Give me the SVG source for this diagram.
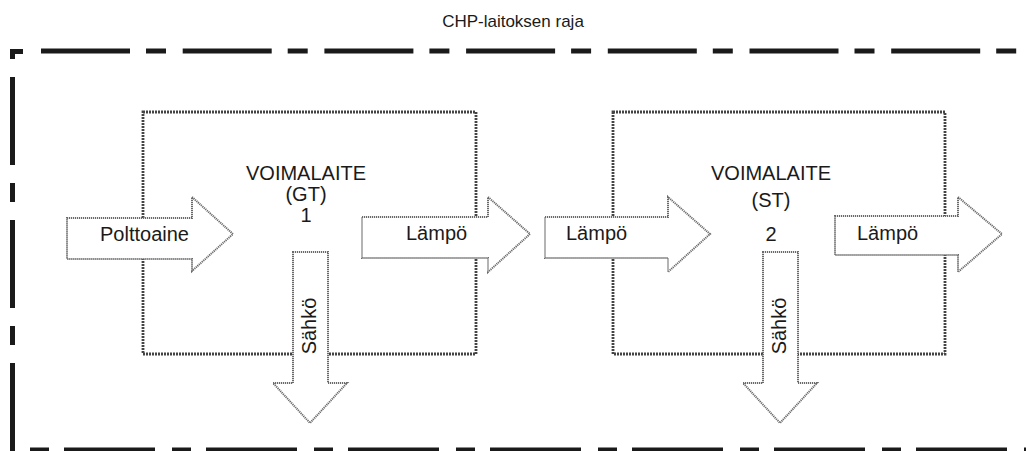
<svg xmlns="http://www.w3.org/2000/svg" width="1026" height="451" viewBox="0 0 1026 451">
  <style>
    .lbl { font-family: "Liberation Sans", Arial, sans-serif; font-size: 20px; fill: #1a1a1a; }
    .title { font-family: "Liberation Sans", Arial, sans-serif; font-size: 17px; fill: #1a1a1a; }
    .frame { stroke: #1a1a1a; stroke-width: 5; fill: none; }
    .unit { fill: none; stroke: #444444; stroke-width: 2.8; stroke-dasharray: 2 1; }
    .flow { fill: #ffffff; stroke: #6a6a6a; stroke-width: 2; stroke-dasharray: 1.2 0.8; }
  </style>

  <rect width="1026" height="451" fill="#ffffff"/>

  <!-- plant boundary (dash-dot) -->
  <g id="boundary">
    <text class="title" x="513" y="27" text-anchor="middle">CHP-laitoksen raja</text>
    <path d="M10 49 H23 V54 H15 V59 H10 Z" fill="#1a1a1a"/>
    <line class="frame" x1="41" y1="51" x2="1026" y2="51" stroke-dasharray="89 16 20 16.7"/>
    <line class="frame" x1="12.5" y1="77" x2="12.5" y2="451" stroke-dasharray="88 18 19 18"/>
    <line class="frame" x1="30" y1="450" x2="1026" y2="450" stroke-dasharray="19 15 91 17"/>
  </g>

  <!-- power units -->
  <g id="unit-gt">
    <rect class="unit" x="143" y="112" width="333" height="242"/>
    <text class="lbl" x="306" y="180" text-anchor="middle">VOIMALAITE</text>
    <text class="lbl" x="306" y="201" text-anchor="middle">(GT)</text>
    <text class="lbl" x="306" y="222" text-anchor="middle">1</text>
  </g>
  <g id="unit-st">
    <rect class="unit" x="613" y="112" width="332" height="242"/>
    <text class="lbl" x="771" y="180" text-anchor="middle">VOIMALAITE</text>
    <text class="lbl" x="771" y="207" text-anchor="middle">(ST)</text>
    <text class="lbl" x="771" y="241" text-anchor="middle">2</text>
  </g>

  <!-- energy flows -->
  <g id="flows">
    <g id="flow-fuel">
      <polygon class="flow" points="67,218 192,218 192,197 233,234 192,271 192,259 67,259"/>
      <text class="lbl" x="100" y="241">Polttoaine</text>
    </g>
    <g id="flow-heat-gt">
      <polygon class="flow" points="362,217 488,217 488,197 530,234 488,272 488,258 362,258"/>
      <text class="lbl" x="406" y="240">Lämpö</text>
    </g>
    <g id="flow-heat-st-in">
      <polygon class="flow" points="545,217 668,217 668,197 710,234 668,272 668,258 545,258"/>
      <text class="lbl" x="566" y="240">Lämpö</text>
    </g>
    <g id="flow-heat-st-out">
      <polygon class="flow" points="835,216 958,216 958,197 1002,234 958,272 958,255 835,255"/>
      <text class="lbl" x="857" y="240">Lämpö</text>
    </g>
    <g id="flow-power-gt">
      <polygon class="flow" points="293,252 328,252 328,383 347,383 310,423 273,383 293,383"/>
      <text class="lbl" transform="translate(316,326) rotate(-90)" text-anchor="middle">Sähkö</text>
    </g>
    <g id="flow-power-st">
      <polygon class="flow" points="763,252 798,252 798,383 817,383 780,423 743,383 763,383"/>
      <text class="lbl" transform="translate(786,326) rotate(-90)" text-anchor="middle">Sähkö</text>
    </g>
  </g>
</svg>
